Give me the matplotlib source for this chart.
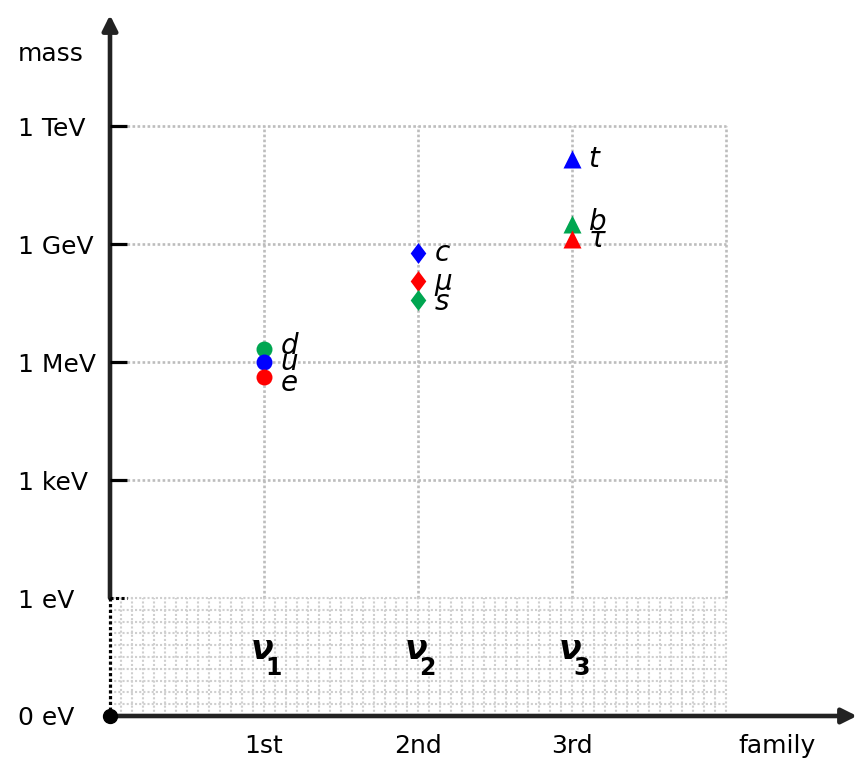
"""
Fermion mass ladder: charged leptons and quarks by family on a log mass axis,
with the neutrinos squeezed into the sub-eV band.
"""

import matplotlib
matplotlib.use("Agg")
import matplotlib.pyplot as plt
import numpy as np


# --- data (masses in eV) ---------------------------------------------------
particles = ["d", "u", "e", "c", "μ", "s", "t", "b", "τ"]
family = [1, 1, 1, 2, 2, 2, 3, 3, 3]
mass_ev = [2.2e6, 0.98e6, 0.41e6, 5.8e8, 1.15e8, 3.8e7, 1.46e11, 3.3e9, 1.34e9]
kind = ["down", "up", "lepton", "up", "lepton", "down", "up", "down", "lepton"]

family_ticks = [1, 2, 3]
family_labels = ["1st", "2nd", "3rd"]

mass_ticks = [1.0, 1e3, 1e6, 1e9, 1e12]
mass_labels = ["1 eV", "1 keV", "1 MeV", "1 GeV", "1 TeV"]
zero_label = "0 eV"

neutrinos = ["1", "2", "3"]

# --- style ------------------------------------------------------------------
KIND_COLOR = {"up": "#0000ff", "down": "#00a651", "lepton": "#ff0000"}
DIAMOND = [(0, 1), (0.75, 0), (0, -1), (-0.75, 0), (0, 1)]
FAMILY_MARKER = {1: ("o", 11.5), 2: (DIAMOND, 15), 3: ("^", 12.5)}
LABEL_NUDGE = {"d": 1.5, "e": -4.5, "s": -1.5, "μ": -1.0, "b": 1.5}

AXIS_C = "#222222"
GRID_C = "#bdbdbd"
FLOOR = -3.0          # log10 position used for "0 eV"
XMAX = 4.0            # right edge of the grid

plt.rcParams["font.family"] = "DejaVu Sans"

# pixel geometry: 154 px per family, 39.33 px per decade, origin at (110, 715)
PX_X, PX_Y = 154.0, 39.33
fig = plt.figure(figsize=(8.6, 7.77), dpi=100)
ax = fig.add_axes([0, 0, 1, 1])
ax.set_xlim(-110 / PX_X, 750 / PX_X)
ax.set_ylim((598 - 777) / PX_Y, 598 / PX_Y)
ax.axis("off")

log_ticks = np.log10(mass_ticks)
top = log_ticks[-1]
tick_len = 17 / PX_X

# regular dotted grid above 1 eV
for y in log_ticks[1:]:
    ax.plot([tick_len, XMAX], [y, y], color=GRID_C, lw=1.9,
            ls=(0, (1.0, 0.9)), zorder=1)
for x in family_ticks + [XMAX]:
    ax.plot([x, x], [0, top], color=GRID_C, lw=1.9,
            ls=(0, (1.0, 0.9)), zorder=1)

# dense dotted mesh for the sub-eV band
for y in np.linspace(FLOOR, 0, 11)[1:]:
    ax.plot([0, XMAX], [y, y], color="#cfcfcf", lw=1.5,
            ls=(0, (1.0, 1.0)), zorder=1)
for x in np.linspace(0, XMAX, 57)[1:]:
    ax.plot([x, x], [FLOOR, 0], color="#cfcfcf", lw=1.5,
            ls=(0, (1.0, 1.0)), zorder=1)

# axes with arrows
arrow = dict(arrowstyle="-|>,head_length=0.6,head_width=0.3",
             color=AXIS_C, lw=3.3, shrinkA=0, shrinkB=0, mutation_scale=15)
ax.annotate("", xy=(747 / PX_X, FLOOR), xytext=(0, FLOOR),
            arrowprops=arrow, zorder=4)
ax.annotate("", xy=(0, 583 / PX_Y), xytext=(0, 0),
            arrowprops=arrow, zorder=4)
ax.plot([0, 0], [FLOOR, 0], color="black", lw=2.3,
        ls=(0, (1.0, 0.8)), zorder=4)
ax.plot([0], [FLOOR], "o", color="black", ms=10, zorder=5)

# y ticks and labels
for y, lbl in zip(log_ticks, mass_labels):
    if y == 0:
        ax.plot([0, tick_len], [y, y], color="black", lw=2.2,
                ls=(0, (1.0, 0.8)), zorder=4)
    else:
        ax.plot([0, tick_len], [y, y], color="black", lw=2.3, zorder=4,
                solid_capstyle="butt")
    ax.text(-92 / PX_X, y, lbl, fontsize=18, ha="left",
            va="center_baseline", color="black")
ax.text(-92 / PX_X, FLOOR, zero_label, fontsize=18, ha="left",
        va="center_baseline", color="black")
ax.text(-92 / PX_X, (598 - 61) / PX_Y, "mass", fontsize=18, ha="left",
        va="baseline", color="black")

# x labels
lab_y = (598 - 753) / PX_Y
for x, lbl in zip(family_ticks, family_labels):
    ax.text(x, lab_y, lbl, fontsize=18, ha="center", va="baseline")
ax.text(667 / PX_X, lab_y, "family", fontsize=18, ha="center", va="baseline")

# particles
for name, fam, m, k in zip(particles, family, mass_ev, kind):
    marker, ms = FAMILY_MARKER[fam]
    y = np.log10(m)
    ax.plot([fam], [y], marker=marker, ms=ms, color=KIND_COLOR[k],
            mec="none", ls="none", zorder=6)
    ax.annotate(name, (fam, y), xytext=(12, LABEL_NUDGE.get(name, 0)),
                textcoords="offset points", fontsize=20, fontstyle="italic",
                ha="left", va="center", zorder=7)

# neutrinos in the sub-eV band
nu_y = (598 - 659) / PX_Y
for x, idx in zip(family_ticks, neutrinos):
    ax.text(x - 1.5 / PX_X, nu_y, "ν", fontsize=24, fontweight="bold",
            fontstyle="italic", ha="center", va="baseline", zorder=7)
    ax.annotate(idx, (x, nu_y), xytext=(1.0, -11.5),
                textcoords="offset points", fontsize=17, fontweight="bold",
                ha="left", va="baseline", zorder=7)

fig.savefig("out.png", dpi=100)
